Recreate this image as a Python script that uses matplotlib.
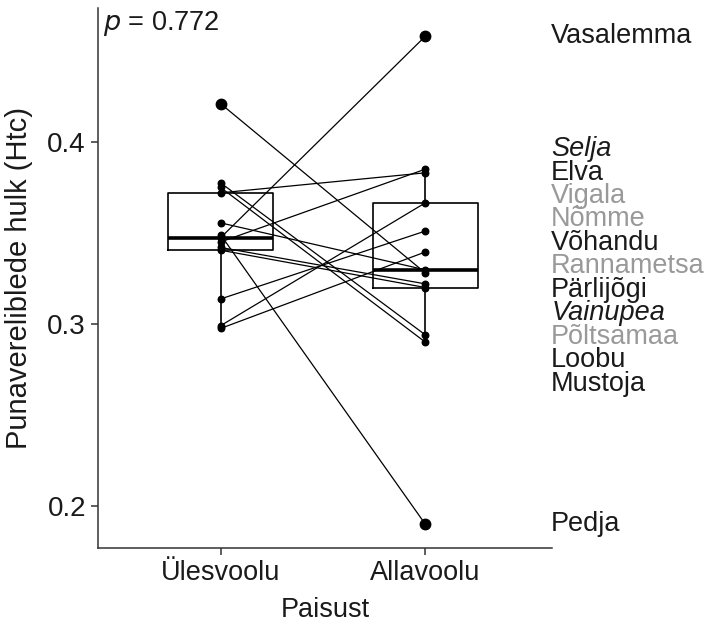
import numpy as np
import matplotlib
matplotlib.use("Agg")
import matplotlib.pyplot as plt

# site names, upstream (Ülesvoolu) and downstream (Allavoolu) haematocrit
SITES = ["Vasalemma", "Selja", "Elva", "Vigala", "Nõmme", "Võhandu",
         "Rannametsa", "Pärlijõgi", "Vainupea", "Põltsamaa", "Loobu",
         "Mustoja", "Pedja"]
UP = [0.3473, 0.345, 0.372, 0.2990, 0.3137, 0.2975,
      0.3555, 0.421, 0.342, 0.3405, 0.3775, 0.375, 0.349]
DOWN = [0.458, 0.385, 0.383, 0.3665, 0.351, 0.3395,
        0.3297, 0.328, 0.322, 0.320, 0.294, 0.290, 0.190]
LABEL_COLOR = ["black", "black", "black", "grey", "grey", "black", "grey",
               "black", "black", "grey", "black", "black", "black"]
LABEL_ITALIC = [False, True, False, False, False, False, False,
                False, True, False, False, False, False]
GROUPS = ["Ülesvoolu", "Allavoolu"]
P_VALUE = 0.772

plt.rcParams["font.family"] = ["Liberation Sans", "DejaVu Sans"]
TXT = "#1a1a1a"


def repel(vals, gap, up_share=0.455, iters=600):
    """push label positions apart, keeping their order"""
    order = np.argsort(vals)[::-1]
    pos = np.array(vals, dtype=float)[order]
    for _ in range(iters):
        moved = False
        for i in range(len(pos) - 1):
            d = pos[i] - pos[i + 1]
            if d < gap - 1e-9:
                pos[i] += (gap - d) * up_share
                pos[i + 1] -= (gap - d) * (1 - up_share)
                moved = True
        if not moved:
            break
    out = np.empty_like(pos)
    out[order] = pos
    return out


fig = plt.figure(figsize=(7.08, 6.34), dpi=100)
ax = fig.add_axes([0.138, 0.1356, 0.642, 0.852])

ax.boxplot([UP, DOWN], positions=[1, 2], widths=0.51, whis=1.5,
           patch_artist=False,
           boxprops=dict(color="black", lw=1.2),
           whiskerprops=dict(color="black", lw=1.2),
           capprops=dict(lw=0),
           medianprops=dict(color="black", lw=2.6),
           flierprops=dict(marker="o", markerfacecolor="black",
                           markeredgecolor="black", markersize=7.5))

for u, d in zip(UP, DOWN):
    ax.plot([1, 2], [u, d], color="black", lw=0.9, zorder=3)
ax.scatter(np.ones(len(UP)), UP, s=22, color="black", zorder=4)
ax.scatter(np.full(len(DOWN), 2), DOWN, s=22, color="black", zorder=4)

ylab = repel(DOWN, 0.0129)
for name, y, c, it in zip(SITES, ylab, LABEL_COLOR, LABEL_ITALIC):
    col = "#999999" if c == "grey" else TXT
    ax.text(2.615, y, name, ha="left", va="center", fontsize=19.5,
            color=col, style="italic" if it else "normal", clip_on=False)

ax.text(0.012, 0.998, "$p$ = %.3f" % P_VALUE, transform=ax.transAxes,
        ha="left", va="top", fontsize=19.5, color=TXT)

ax.set_xlim(0.4, 2.62)
ax.set_ylim(0.1769, 0.4736)
ax.set_xticks([1, 2])
ax.set_xticklabels(GROUPS)
ax.set_yticks([0.2, 0.3, 0.4])
ax.set_yticklabels(["0.2", "0.3", "0.4"])
ax.tick_params(labelsize=20, labelcolor=TXT, length=5, width=1.1,
               color="#333333")
ax.tick_params(axis="x", labelsize=19.5)
ax.set_xlabel("Paisust", fontsize=19.5, color=TXT, labelpad=8)
ax.set_ylabel("Punavereliblede hulk (Htc)", fontsize=21, color=TXT,
              labelpad=10)
for s in ["top", "right"]:
    ax.spines[s].set_visible(False)
for s in ["left", "bottom"]:
    ax.spines[s].set_linewidth(1.1)
    ax.spines[s].set_color("#333333")

fig.savefig("out.png", dpi=100)
